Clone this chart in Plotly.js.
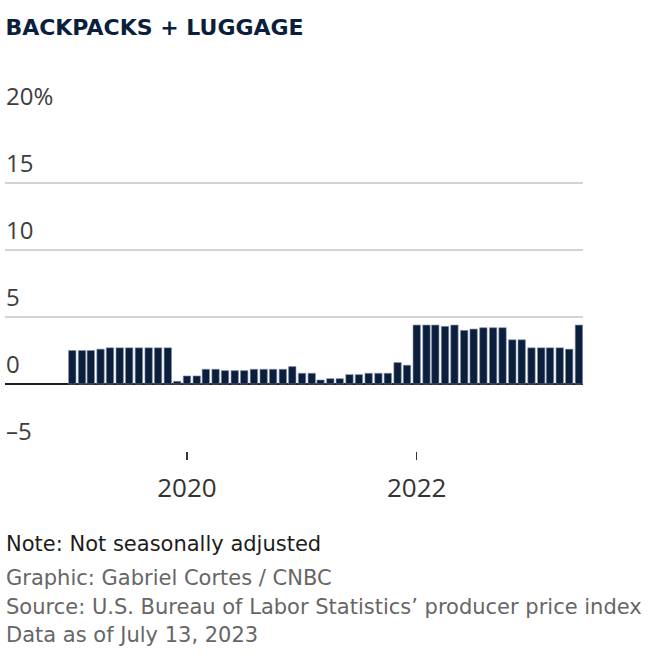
<!DOCTYPE html>
<html>
<head>
<meta charset="utf-8">
<script src="https://cdn.plot.ly/plotly-3.0.1.min.js"></script>
<style>
  html, body { margin: 0; padding: 0; background: #ffffff; }
  #chart { width: 672px; height: 665px; }
</style>
</head>
<body>
<div id="chart"></div>
<script>
// ---- Data ----
const months = [
  '2019-01','2019-02','2019-03','2019-04','2019-05','2019-06','2019-07','2019-08','2019-09','2019-10','2019-11','2019-12',
  '2020-01','2020-02','2020-03','2020-04','2020-05','2020-06','2020-07','2020-08','2020-09','2020-10','2020-11','2020-12',
  '2021-01','2021-02','2021-03','2021-04','2021-05','2021-06','2021-07','2021-08','2021-09','2021-10','2021-11','2021-12',
  '2022-01','2022-02','2022-03','2022-04','2022-05','2022-06','2022-07','2022-08','2022-09','2022-10','2022-11','2022-12',
  '2023-01','2023-02','2023-03','2023-04','2023-05','2023-06'
];
const pctChange = [
  2.5, 2.5, 2.5, 2.6, 2.7, 2.7, 2.7, 2.7, 2.7, 2.7, 2.7, 0.2,
  0.6, 0.6, 1.1, 1.1, 1.0, 1.0, 1.0, 1.1, 1.1, 1.1, 1.1, 1.3,
  0.8, 0.8, 0.3, 0.4, 0.4, 0.7, 0.7, 0.8, 0.8, 0.8, 1.6, 1.4,
  4.4, 4.4, 4.4, 4.3, 4.4, 4.0, 4.1, 4.2, 4.2, 4.2, 3.3, 3.3,
  2.7, 2.7, 2.7, 2.7, 2.6, 4.4
];
const yTickVals = [-5, 0, 5, 10, 15, 20];
const yTickText = ['–5', '0', '5', '10', '15', '20%'];
const xTickVals = ['2020-01-01', '2022-01-01'];
const xTickText = ['2020', '2022'];
const titleText = 'BACKPACKS + LUGGAGE';
const footNote = 'Note: Not seasonally adjusted';
const footLines = [
  'Graphic: Gabriel Cortes / CNBC',
  'Source: U.S. Bureau of Labor Statistics’ producer price index',
  'Data as of July 13, 2023'
];

// ---- Chart ----
const DAY = 86400000;
const trace = {
  type: 'bar',
  x: months,
  y: pctChange,
  width: 23.5 * DAY,
  marker: { color: '#0b1f3d', line: { color: '#7f8ea6', width: 0.6 } },
  hoverinfo: 'x+y'
};

const yLabelAnnotations = yTickVals.map((v, i) => ({
  xref: 'paper', yref: 'y', x: 0, y: v,
  xanchor: 'left', yanchor: 'bottom', yshift: 2, xshift: -1,
  text: yTickText[i], showarrow: false,
  font: { family: '"Open Sans", Lato, sans-serif', size: 24, color: '#3d3d3d' }
}));

const plotBottom = 450.7, plotH = 335;
function py(p) { return (plotBottom - p) / plotH; }

const footAnnotations = [
  { text: footNote, y: py(544), color: '#1c1c1c' },
  { text: footLines[0], y: py(578), color: '#666666' },
  { text: footLines[1], y: py(607), color: '#666666' },
  { text: footLines[2], y: py(635), color: '#666666' }
].map(a => ({
  xref: 'paper', yref: 'paper', x: 0, y: a.y, xanchor: 'left', yanchor: 'middle',
  xshift: 0, borderpad: 0, text: a.text, showarrow: false,
  font: { family: '"DejaVu Sans", "Open Sans", sans-serif', size: 21, color: a.color }
}));

const layout = {
  width: 672, height: 665,
  margin: { l: 5, r: 89, t: 116, b: 214 },
  paper_bgcolor: '#ffffff', plot_bgcolor: '#ffffff',
  showlegend: false,
  title: {
    text: '<b>' + titleText + '</b>',
    xref: 'container', yref: 'container', x: 0.008, xanchor: 'left',
    y: 1 - 27 / 665, yanchor: 'middle',
    font: { family: '"DejaVu Sans", "Open Sans", sans-serif', size: 22, color: '#0b1f3d' }
  },
  xaxis: {
    type: 'date',
    range: ['2018-06-01', '2023-06-14'],
    tickmode: 'array', tickvals: xTickVals, ticktext: xTickText,
    ticks: 'outside', ticklen: 8, tickwidth: 1.5, tickcolor: '#333333',
    ticklabelstandoff: 6,
    showgrid: false, zeroline: false, showline: false,
    tickfont: { family: '"Open Sans", sans-serif', size: 26, color: '#333333' },
    fixedrange: true
  },
  yaxis: {
    range: [-5, 20],
    tickmode: 'array', tickvals: yTickVals, ticktext: yTickText,
    showticklabels: false,
    showgrid: true, gridcolor: '#d3d3d3', gridwidth: 2,
    zeroline: true, zerolinecolor: '#1e1e1e', zerolinewidth: 2,
    showline: false, ticks: '',
    fixedrange: true
  },
  annotations: yLabelAnnotations.concat(footAnnotations),
  bargap: 0.2
};

Plotly.newPlot('chart', [trace], layout, { displayModeBar: false, staticPlot: true });
</script>
</body>
</html>
